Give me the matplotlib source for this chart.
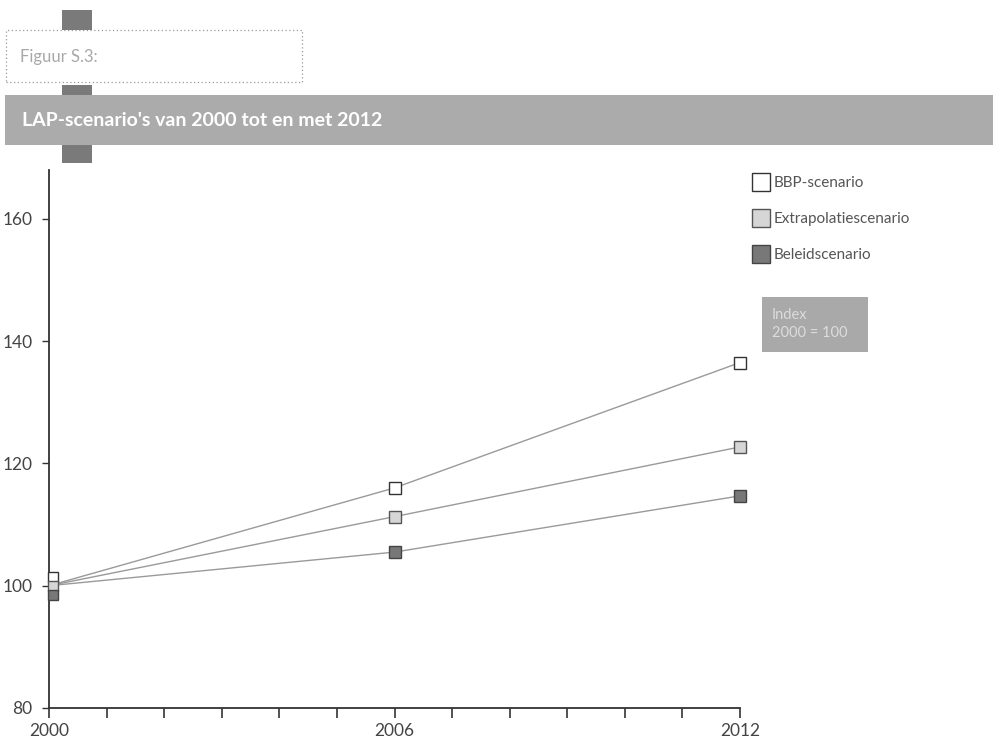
import matplotlib
matplotlib.use("Agg")
import matplotlib.pyplot as plt
import matplotlib.patches as mpatches
import matplotlib.transforms as mtransforms

plt.rcParams['font.family'] = ['Lato', 'DejaVu Sans']

years = [2000, 2006, 2012]
series_names = ["BBP-scenario", "Extrapolatiescenario", "Beleidscenario"]
bbp = [100, 116, 136.5]
extrapolatie = [100, 111.3, 122.7]
beleid = [100, 105.5, 114.7]
yticks = [80, 100, 120, 140, 160]
xtick_labels = {2000: "2000", 2006: "2006", 2012: "2012"}
figure_label = "Figuur S.3:"
title = "LAP-scenario's van 2000 tot en met 2012"
index_note = "Index\n2000 = 100"

W, H = 993, 739
fig = plt.figure(figsize=(W / 100, H / 100), dpi=100)

def fx(px):
    return px / W

def fy(py):
    return 1 - py / H

# decorative header
fig.patches.append(mpatches.Rectangle((fx(5), fy(145)), fx(988), 50 / H,
                                      transform=fig.transFigure, facecolor="#ababab",
                                      edgecolor="none", zorder=0))
fig.patches.append(mpatches.Rectangle((fx(6), fy(82)), fx(296), 52 / H,
                                      transform=fig.transFigure, facecolor="none",
                                      edgecolor="#9a9a9a", linestyle=(0, (1, 2)),
                                      linewidth=0.9, zorder=0))
for top, h in [(10, 20), (85, 10), (145, 18)]:
    fig.patches.append(mpatches.Rectangle((fx(62), fy(top + h)), fx(30), h / H,
                                          transform=fig.transFigure, facecolor="#7a7a7a",
                                          edgecolor="none", zorder=1))
fig.text(fx(20), fy(57), figure_label, fontsize=12, color="#a8a8a8", va="center", ha="left")
fig.text(fx(22), fy(121), title, fontsize=14, color="white", va="center", ha="left",
         fontweight="bold")

ax = fig.add_axes([fx(49), fy(708), fx(691), 538 / H])
ax.set_xlim(2000, 2012)
ax.set_ylim(80, 168)

styles = [
    dict(mfc="white", mec="#333333"),
    dict(mfc="#d6d6d6", mec="#555555"),
    dict(mfc="#787878", mec="#444444"),
]
data = [bbp, extrapolatie, beleid]
offsets_2000 = [9, 0, -9]
for name, vals, st, off in zip(series_names, data, styles, offsets_2000):
    ax.plot(years, vals, color="#9a9a9a", linewidth=1.0, zorder=2)
    ax.plot(years[1:], vals[1:], linestyle="none", marker="s", markersize=8.5,
            markeredgewidth=1.0, zorder=3, clip_on=False, **st)
    tr = mtransforms.offset_copy(ax.transData, fig=fig, x=4, y=off, units="dots")
    ax.plot(years[:1], vals[:1], linestyle="none", marker="s", markersize=7.5,
            markeredgewidth=1.0, zorder=3, clip_on=False, transform=tr, **st)

ax.set_yticks(yticks)
ax.set_yticklabels([str(v) for v in yticks], fontsize=12.5, color="#444444")
ax.set_xticks(list(range(2000, 2013)))
ax.set_xticklabels([xtick_labels.get(y, "") for y in range(2000, 2013)],
                   fontsize=12.5, color="#444444")
ax.tick_params(axis="x", direction="out", length=7, width=1.2, color="#333333", pad=4)
ax.tick_params(axis="y", direction="out", length=5, width=1.0, color="#333333", pad=7)
for s in ["top", "right"]:
    ax.spines[s].set_visible(False)
for s in ["left", "bottom"]:
    ax.spines[s].set_color("#333333")
    ax.spines[s].set_linewidth(1.3)

# legend
handles = [plt.Line2D([], [], linestyle="none", marker="s", markersize=13,
                      markeredgewidth=1.0, **st) for st in styles]
leg = fig.legend(handles, series_names, loc="upper left",
                 bbox_to_anchor=(fx(746), fy(170)), frameon=False, fontsize=11,
                 labelcolor="#555555", handlelength=1.1, handletextpad=0.3,
                 labelspacing=1.45, borderaxespad=0)

# index note box
fig.patches.append(mpatches.Rectangle((fx(762), fy(352)), fx(106), 55 / H,
                                      transform=fig.transFigure, facecolor="#a9a9a9",
                                      edgecolor="none"))
fig.text(fx(772), fy(324), index_note, fontsize=10.5, color="#dcdcdc", va="center",
         ha="left", linespacing=1.4)

fig.savefig("out.png", dpi=100)
